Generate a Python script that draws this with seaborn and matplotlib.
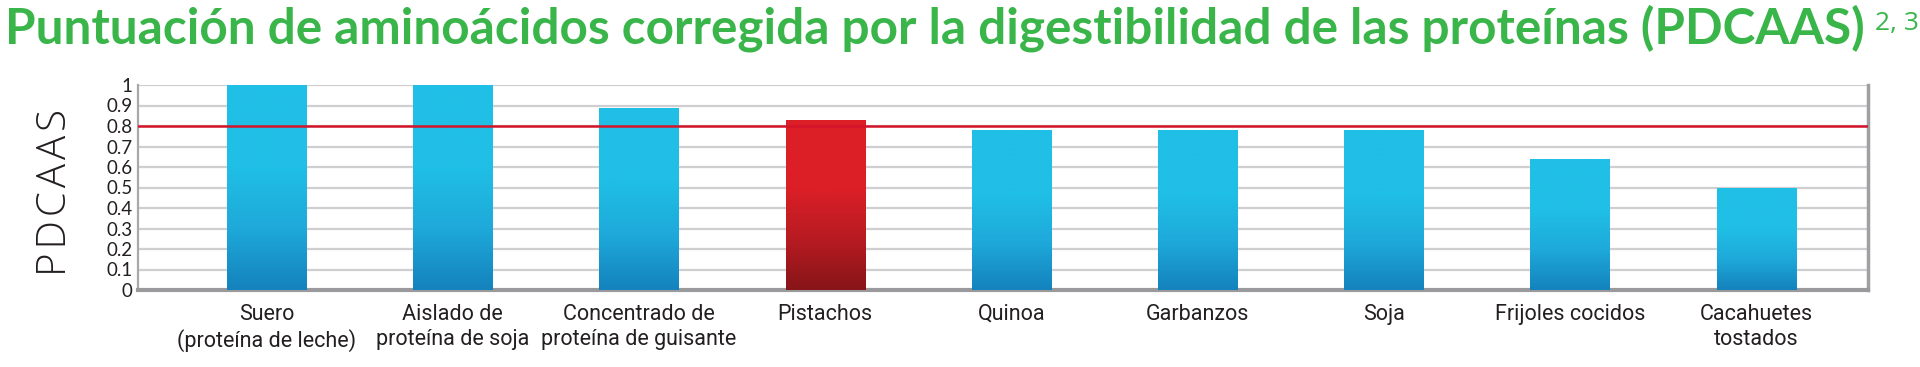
import numpy as np
import matplotlib
matplotlib.use("Agg")
import matplotlib.pyplot as plt
import seaborn as sns
import pandas as pd
from matplotlib.colors import LinearSegmentedColormap

categories = ["Suero\n(proteína de leche)", "Aislado de\nproteína de soja",
              "Concentrado de\nproteína de guisante", "Pistachos", "Quinoa",
              "Garbanzos", "Soja", "Frijoles cocidos", "Cacahuetes\ntostados"]
values = [1.0, 1.0, 0.89, 0.83, 0.78, 0.78, 0.78, 0.64, 0.50]
highlight = [False, False, False, True, False, False, False, False, False]
yticks = [0, 0.1, 0.2, 0.3, 0.4, 0.5, 0.6, 0.7, 0.8, 0.9, 1.0]
ytick_labels = ["0", "0.1", "0.2", "0.3", "0.4", "0.5", "0.6", "0.7", "0.8", "0.9", "1"]
threshold = 0.8
title = "Puntuación de aminoácidos corregida por la digestibilidad de las proteínas (PDCAAS)"
title_sup = "2, 3"
ylabel = "PDCAAS"

sns.set_theme(style="white")
plt.rcParams['font.family'] = ['Lato', 'DejaVu Sans']

blue_top, blue_mid, blue_bot = "#20bfe6", "#1ea9da", "#1482bd"
red_top, red_mid, red_bot = "#dc1f27", "#b81b22", "#861518"

fig = plt.figure(figsize=(19.2, 3.67), dpi=100)
ax = fig.add_axes([138/1920, 77/367, (1868-138)/1920, 205/367])

df = pd.DataFrame({"cat": categories, "val": values,
                   "grp": ["hi" if h else "lo" for h in highlight]})
sns.barplot(data=df, x="cat", y="val", hue="grp",
            palette={"hi": red_top, "lo": blue_top}, width=0.425,
            dodge=False, legend=False, ax=ax, zorder=3, linewidth=0,
            saturation=1)

# gradient fill on each bar
cmap_b = LinearSegmentedColormap.from_list("b", [(0, blue_bot), (0.3, blue_mid), (0.6, blue_top), (1, blue_top)])
cmap_r = LinearSegmentedColormap.from_list("r", [(0, red_bot), (0.3, red_mid), (0.6, red_top), (1, red_top)])
grad = np.linspace(0, 1, 256).reshape(-1, 1)
red_rgb = np.array(matplotlib.colors.to_rgb(red_top))
for p in list(ax.patches):
    x0, y0 = p.get_x(), p.get_y()
    w, h = p.get_width(), p.get_height()
    if not np.isfinite(h) or h <= 0:
        continue
    fc = np.array(p.get_facecolor()[:3])
    cm = cmap_r if np.allclose(fc, red_rgb, atol=0.02) else cmap_b
    im = ax.imshow(grad, extent=[x0, x0 + w, y0, y0 + h], origin="lower",
                   cmap=cm, aspect="auto", zorder=3.5, interpolation="bicubic")
    im.set_clip_path(p)
ax.set_xlim(-0.69, 8.6)
ax.set_ylim(0, 1.0)

# grid
ax.set_yticks(yticks)
ax.set_yticklabels(ytick_labels)
for yv in yticks[1:]:
    ax.axhline(yv, color="#cfcfd1", lw=1.6, zorder=1)
ax.axhline(threshold, color="#d3142a", lw=1.8, zorder=5)

ax.spines["top"].set_visible(False)
ax.spines["left"].set_color("#a8a8aa")
ax.spines["left"].set_linewidth(1.6)
ax.spines["right"].set_color("#a0a0a2")
ax.spines["right"].set_linewidth(2.5)
ax.spines["bottom"].set_color("#9a9a9c")
ax.spines["bottom"].set_linewidth(3)

ax.tick_params(axis="y", length=0, pad=4, labelsize=13.5, labelcolor="#231f20")
ax.tick_params(axis="x", length=0, pad=10, labelcolor="#231f20")
for lbl in ax.get_xticklabels():
    lbl.set_family(["Liberation Sans Narrow", "Roboto", "DejaVu Sans"])
    lbl.set_fontsize(15.5)
    lbl.set_linespacing(1.25)
    lbl.set_verticalalignment("top")

ax.set_xlabel("")
spaced = "\u200a".join(ylabel)
ax.set_ylabel(spaced, fontsize=29, fontweight="light", color="#231f20",
              family=["Open Sans", "DejaVu Sans"])
ax.yaxis.set_label_coords(-0.0474, 0.475)
ax.yaxis.label.set_va("center")

t = fig.text(5/1920, 1 - 44/367, title, fontsize=35.5, fontweight="bold", color="#39b54a",
             ha="left", va="baseline")
# fit title width to the reference span
renderer = fig.canvas.get_renderer()
target_w = 1858
for _ in range(3):
    bb = t.get_window_extent(renderer)
    t.set_fontsize(t.get_fontsize() * target_w / bb.width)
bb = t.get_window_extent(renderer)
fig.text((bb.x1 + 10) / 1920, 1 - 30/367, title_sup, fontsize=19, color="#39b54a",
         ha="left", va="baseline", family=["Open Sans", "DejaVu Sans"])

fig.savefig("out.png", dpi=100)
